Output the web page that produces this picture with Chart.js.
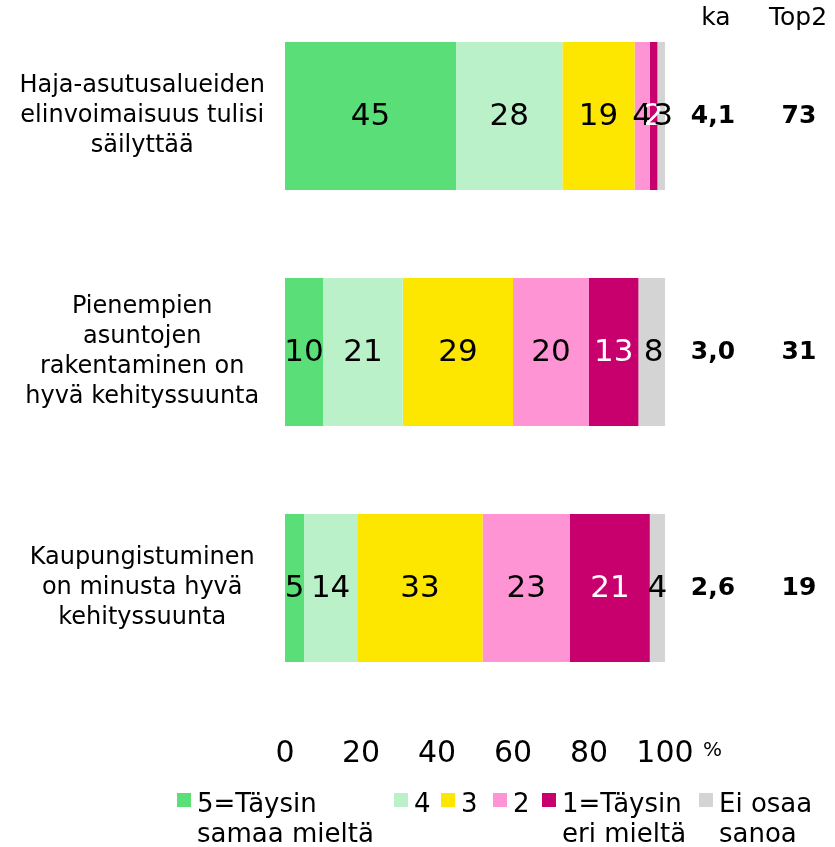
<!DOCTYPE html>
<html>
<head>
<meta charset="utf-8">
<script src="https://cdn.jsdelivr.net/npm/chart.js@4/dist/chart.umd.min.js"></script>
<style>
  html, body { margin: 0; padding: 0; background: #ffffff; overflow: hidden; }
  #wrap { position: relative; width: 835px; height: 849px; margin-top: -2px; }
</style>
</head>
<body>
<div id="wrap"><canvas id="chart"></canvas></div>
<script>
/* data */
var categories = [
  ["Haja-asutusalueiden", "elinvoimaisuus tulisi", "säilyttää"],
  ["Pienempien", "asuntojen", "rakentaminen on", "hyvä kehityssuunta"],
  ["Kaupungistuminen", "on minusta hyvä", "kehityssuunta"]
];
var seriesNames = [
  ["5=Täysin", "samaa mieltä"],
  ["4"],
  ["3"],
  ["2"],
  ["1=Täysin", "eri mieltä"],
  ["Ei osaa", "sanoa"]
];
var seriesColors = ["#5ade78", "#bbf1c9", "#fde600", "#fe94d4", "#c7006e", "#d4d4d4"];
var labelColors = ["#000000", "#000000", "#000000", "#000000", "#ffffff", "#000000"];
var values5 = [45, 10, 5];
var values4 = [28, 21, 14];
var values3 = [19, 29, 33];
var values2 = [4, 20, 23];
var values1 = [2, 13, 21];
var valuesEos = [3, 8, 4];
var kaValues = ["4,1", "3,0", "2,6"];
var top2Values = ["73", "31", "19"];
var xTicks = [0, 20, 40, 60, 80, 100];

var FONT = '"DejaVu Sans", Verdana, sans-serif';

/* ---------- datasets ---------- */
var seriesValues = [values5, values4, values3, values2, values1, valuesEos];
var datasets = seriesValues.map(function (vals, i) {
  return {
    label: seriesNames[i].join(" "),
    data: vals,
    backgroundColor: seriesColors[i],
    borderWidth: 0,
    barPercentage: 0.627,
    categoryPercentage: 1.0
  };
});

/* ---------- segment labels ---------- */
var segmentLabels = {
  id: "segmentLabels",
  afterDatasetsDraw: function (chart) {
    var ctx = chart.ctx;
    ctx.save();
    ctx.font = "31px " + FONT;
    ctx.textAlign = "center";
    ctx.textBaseline = "middle";
    chart.data.datasets.forEach(function (ds, di) {
      var meta = chart.getDatasetMeta(di);
      meta.data.forEach(function (bar, i) {
        var x = (bar.x + bar.base) / 2;
        ctx.fillStyle = labelColors[di];
        ctx.fillText(String(ds.data[i]), x, bar.y + 1);
      });
    });
    ctx.restore();
  }
};

/* ---------- ka / Top2 columns, % sign, legend ---------- */
var extras = {
  id: "extras",
  afterDraw: function (chart) {
    var ctx = chart.ctx;
    var y = chart.scales.y;
    var x = chart.scales.x;
    ctx.save();
    ctx.fillStyle = "#000000";
    ctx.textAlign = "center";
    ctx.textBaseline = "middle";

    ctx.font = "25px " + FONT;
    ctx.fillText("ka", 716, 20);
    ctx.fillText("Top2", 798, 20);

    ctx.font = "bold 25px " + FONT;
    categories.forEach(function (c, i) {
      var py = y.getPixelForValue(i);
      ctx.fillText(kaValues[i], 713, py);
      ctx.fillText(top2Values[i], 799, py);
    });

    ctx.font = "20px " + FONT;
    ctx.textAlign = "left";
    ctx.fillText("%", x.getPixelForValue(100) + 38, 753);

    /* legend */
    var boxX = [177, 394, 441, 493, 542, 699];
    ctx.font = "26px " + FONT;
    ctx.textBaseline = "alphabetic";
    seriesNames.forEach(function (lines, i) {
      ctx.fillStyle = seriesColors[i];
      ctx.fillRect(boxX[i], 795, 14, 14);
      ctx.fillStyle = "#000000";
      lines.forEach(function (t, li) {
        ctx.fillText(t, boxX[i] + 20, 814 + li * 30);
      });
    });
    ctx.restore();
  }
};

function noPad(scale) {
  scale.paddingTop = 0;
  scale.paddingBottom = 0;
  scale.paddingLeft = 0;
  scale.paddingRight = 0;
}

new Chart(document.getElementById("chart").getContext("2d"), {
  type: "bar",
  data: { labels: categories, datasets: datasets },
  options: {
    indexAxis: "y",
    responsive: true,
    maintainAspectRatio: false,
    animation: false,
    layout: { padding: { left: 0, right: 170, top: 0, bottom: 0 } },
    scales: {
      x: {
        stacked: true,
        min: 0,
        max: 100,
        afterBuildTicks: function (scale) {
          scale.ticks = xTicks.map(function (v) { return { value: v }; });
        },
        afterFit: function (scale) { scale.height = 141; noPad(scale); },
        grid: { display: false, drawTicks: false },
        border: { display: false },
        ticks: {
          color: "#000000",
          padding: 30,
          font: { family: FONT, size: 30 }
        }
      },
      y: {
        stacked: true,
        afterFit: function (scale) { scale.width = 285; noPad(scale); },
        grid: { display: false, drawTicks: false },
        border: { display: false },
        ticks: {
          color: "#000000",
          crossAlign: "center",
          padding: 20,
          font: { family: FONT, size: 24, lineHeight: 1.25 }
        }
      }
    },
    plugins: {
      legend: { display: false },
      tooltip: { enabled: false }
    }
  },
  plugins: [segmentLabels, extras]
});
</script>
</body>
</html>
